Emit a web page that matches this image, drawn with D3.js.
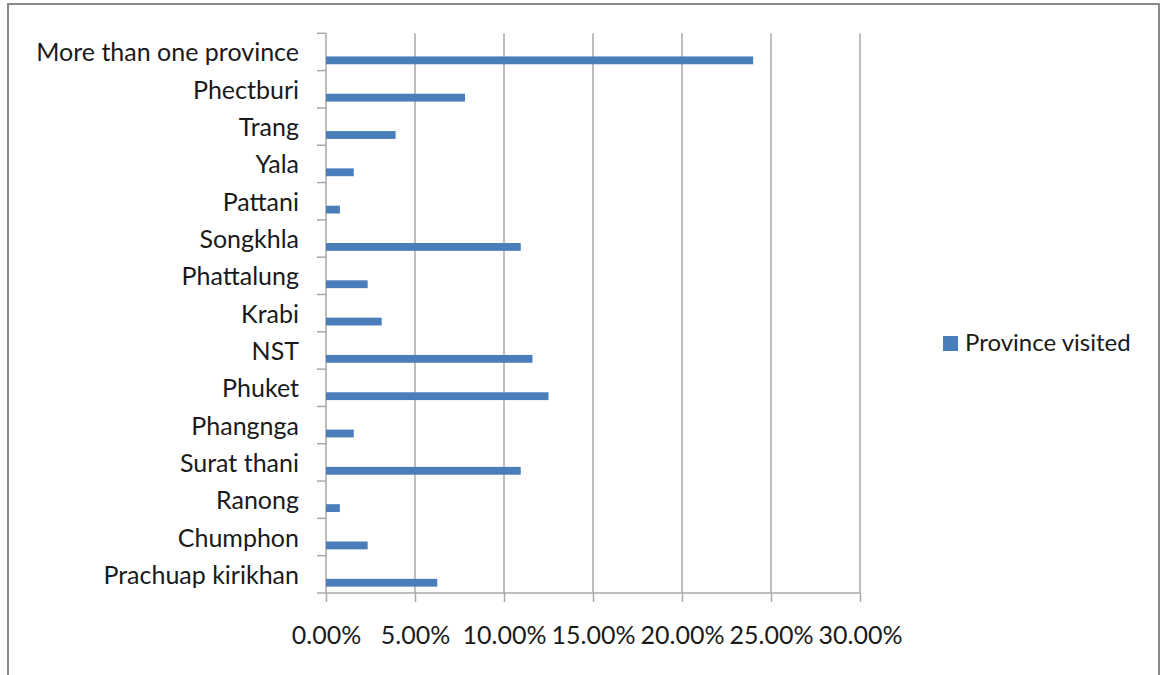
<!DOCTYPE html>
<html>
<head>
<meta charset="utf-8">
<script src="https://cdn.jsdelivr.net/npm/d3@7"></script>
<style>
  body { margin: 0; background: #fff; }
  svg { display: block; }
  text { font-family: Lato, "Open Sans", sans-serif; fill: #1a1a1a; }
</style>
</head>
<body>
<svg></svg>
<script>
const width = 1162;
const height = 675;

// categories listed top to bottom as in the chart
const provinces = [
    'More than one province', 'Phectburi', 'Trang', 'Yala', 'Pattani',
    'Songkhla', 'Phattalung', 'Krabi', 'NST', 'Phuket',
    'Phangnga', 'Surat thani', 'Ranong', 'Chumphon', 'Prachuap kirikhan'
];
// share of respondents (%)
const visited = [24.0, 7.81, 3.91, 1.56, 0.78, 10.94, 2.34, 3.13, 11.6, 12.5, 1.56, 10.94, 0.78, 2.34, 6.25];
const xTicks = [0, 5, 10, 15, 20, 25, 30];
const seriesName = 'Province visited';

const margin = {top: 33.3, left: 326, right: 302, bottom: 82};
const barColor = '#4a7ebb';
const gridColor = '#a8a8a8';

const svg = d3.select('svg')
    .attr('width', width).attr('height', height);

// outer frame
svg.append('rect')
    .attr('x', 8).attr('y', 4)
    .attr('width', 1151).attr('height', 690)
    .attr('fill', '#fff')
    .attr('stroke', '#8a8a8a')
    .attr('stroke-width', 2);

const x = d3.scaleLinear()
    .domain([0, 30])
    .range([margin.left, width - margin.right]);

const y = d3.scaleBand()
    .domain(provinces)
    .range([margin.top, height - margin.bottom]);

const plotBottom = y.range()[1];

// vertical gridlines
svg.append('g')
    .selectAll('line')
    .data(xTicks.slice(1))
    .enter().append('line')
    .attr('x1', d => x(d)).attr('x2', d => x(d))
    .attr('y1', margin.top).attr('y2', plotBottom)
    .attr('stroke', gridColor)
    .attr('stroke-width', 1.5);

// x axis
const xAxis = d3.axisBottom(x)
    .tickValues(xTicks)
    .tickSize(9)
    .tickPadding(24)
    .tickFormat(d => d.toFixed(2) + '%');

const gx = svg.append('g')
    .attr('transform', `translate(0,${plotBottom})`)
    .call(xAxis);
gx.select('.domain').remove();
gx.selectAll('line').attr('stroke', gridColor).attr('stroke-width', 1.5);
gx.selectAll('text')
    .style('font-size', '25px')
    .style('font-family', 'Lato, sans-serif')
    .attr('fill', '#1a1a1a');
gx.append('line')
    .attr('x1', x(0) - 9).attr('x2', x(30))
    .attr('stroke', gridColor).attr('stroke-width', 1.5);

// y axis with ticks at category boundaries
const gy = svg.append('g');
gy.append('line')
    .attr('x1', x(0)).attr('x2', x(0))
    .attr('y1', margin.top).attr('y2', plotBottom)
    .attr('stroke', gridColor).attr('stroke-width', 1.5);
gy.selectAll('.tick')
    .data(provinces)
    .enter().append('line')
    .attr('x1', x(0) - 9).attr('x2', x(0))
    .attr('y1', d => y(d)).attr('y2', d => y(d))
    .attr('stroke', gridColor).attr('stroke-width', 1.5);
gy.selectAll('text')
    .data(provinces)
    .enter().append('text')
    .attr('x', x(0) - 27)
    .attr('y', d => y(d) + y.bandwidth() / 2 + 9.5)
    .attr('text-anchor', 'end')
    .style('font-size', '25px')
    .text(d => d);

// bars
svg.append('g')
    .selectAll('rect')
    .data(provinces)
    .enter().append('rect')
    .attr('x', x(0))
    .attr('y', d => y(d) + y.bandwidth() * 0.62)
    .attr('width', (d, i) => x(visited[i]) - x(0))
    .attr('height', y.bandwidth() * 0.21)
    .attr('fill', barColor);

// legend
const legend = svg.append('g').attr('transform', 'translate(943,336)');
legend.append('rect')
    .attr('width', 15).attr('height', 15)
    .attr('fill', barColor);
legend.append('text')
    .attr('x', 22).attr('y', 15)
    .style('font-size', '24px')
    .text(seriesName);
</script>
</body>
</html>
